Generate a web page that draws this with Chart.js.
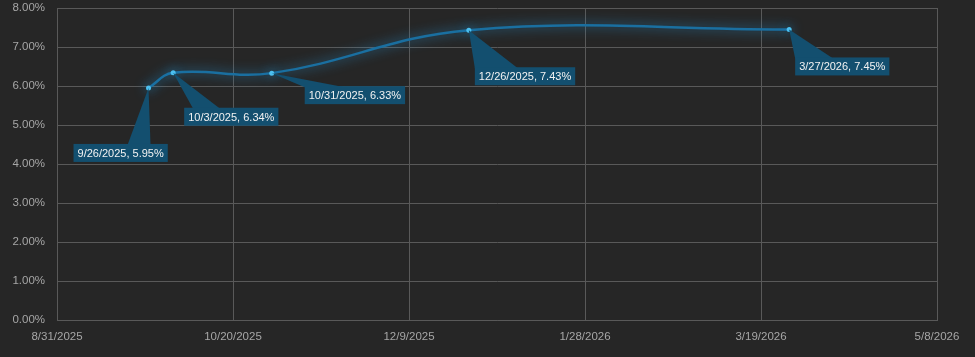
<!DOCTYPE html>
<html>
<head>
<meta charset="utf-8">
<script src="https://cdn.jsdelivr.net/npm/chart.js@4"></script>
<style>
  html, body { margin: 0; padding: 0; background: #262626; }
  #wrap { width: 975px; height: 357px; }
</style>
</head>
<body>
<div id="wrap"><canvas id="rateChart" width="975" height="357"></canvas></div>
<script>
const dates = ['2025-09-26', '2025-10-03', '2025-10-31', '2025-12-26', '2026-03-27'];
const labels = ['9/26/2025', '10/3/2025', '10/31/2025', '12/26/2025', '3/27/2026'];
const rates = [5.95, 6.34, 6.33, 7.43, 7.45];

// x axis runs from 8/31/2025, one tick every 50 days
const startDate = '2025-08-31';
const dayCount = 250;
const dayStep = 50;

// callout box offsets from the point, and where the pointer meets the box top
const calloutStyle = [
    { dx: -75, dy: 56, w0: 54, w1: 77 },
    { dx: 11, dy: 35, w0: 9, w1: 36 },
    { dx: 33, dy: 13, w0: 0, w1: 40 },
    { dx: 6, dy: 37, w0: 0, w1: 43 },
    { dx: 6, dy: 28, w0: 0, w1: 38 }
];

const DAY = 86400000;
const t0 = Date.parse(startDate + 'T00:00:00Z');
const toDays = s => Math.round((Date.parse(s + 'T00:00:00Z') - t0) / DAY);
const fmtDay = d => {
    const dt = new Date(t0 + d * DAY);
    return (dt.getUTCMonth() + 1) + '/' + dt.getUTCDate() + '/' + dt.getUTCFullYear();
};

const points = dates.map((d, i) => ({ x: toDays(d), y: rates[i] }));

const glow = {
    id: 'glow',
    beforeDatasetDraw(chart) {
        const ctx = chart.ctx;
        ctx.save();
        ctx.shadowColor = 'rgba(40, 160, 230, 0.85)';
        ctx.shadowBlur = 12;
    },
    afterDatasetDraw(chart) {
        chart.ctx.restore();
    }
};

const callouts = {
    id: 'callouts',
    afterDatasetsDraw(chart) {
        const ctx = chart.ctx;
        const meta = chart.getDatasetMeta(0);
        ctx.save();
        ctx.font = '11px "Liberation Sans", Arial, sans-serif';
        ctx.textBaseline = 'middle';
        meta.data.forEach((el, i) => {
            const s = calloutStyle[i];
            const text = labels[i] + ', ' + rates[i].toFixed(2) + '%';
            const w = ctx.measureText(text).width + 8;
            const h = 18;
            const bx = el.x + s.dx;
            const by = el.y + s.dy;
            ctx.fillStyle = '#134f6f';
            ctx.beginPath();
            ctx.moveTo(el.x, el.y);
            ctx.lineTo(bx + s.w0, by + 1);
            ctx.lineTo(bx + s.w1, by + 1);
            ctx.closePath();
            ctx.fill();
            ctx.fillRect(bx, by, w, h);
            ctx.fillStyle = '#f2f2f2';
            ctx.fillText(text, bx + 4, by + h / 2 + 1);
        });
        ctx.restore();
    }
};

const config = {
    type: 'line',
    data: {
        datasets: [
            {
                label: 'Rate',
                data: points,
                borderColor: '#1a6fa0',
                borderWidth: 2.5,
                backgroundColor: '#4cc0f0',
                pointBackgroundColor: '#4cc0f0',
                pointBorderWidth: 0,
                pointRadius: 2.5,
                tension: 0.4,
                fill: false
            }
        ]
    },
    options: {
        responsive: false,
        animation: false,
        layout: {
            padding: { top: 8, right: 38, left: 0, bottom: 0 }
        },
        plugins: {
            legend: { display: false },
            tooltip: { enabled: false }
        },
        scales: {
            x: {
                type: 'linear',
                min: 0,
                max: dayCount,
                afterBuildTicks: scale => {
                    const ticks = [];
                    for (let d = 0; d <= dayCount; d += dayStep) ticks.push({ value: d });
                    scale.ticks = ticks;
                },
                afterFit: scale => { scale.height = 37; },
                grid: { color: '#595959', lineWidth: 1, drawTicks: false },
                border: { color: '#595959' },
                ticks: {
                    color: '#a6a6a6',
                    padding: 10,
                    maxRotation: 0,
                    font: { family: '"Liberation Sans", Arial, sans-serif', size: 11.5 },
                    callback: v => fmtDay(v)
                }
            },
            y: {
                min: 0,
                max: 8,
                afterFit: scale => {
                    scale.width = 57;
                    scale.paddingTop = 0;
                    scale.paddingBottom = 0;
                },
                grid: { color: '#595959', lineWidth: 1, drawTicks: false },
                border: { color: '#595959' },
                ticks: {
                    stepSize: 1,
                    color: '#a6a6a6',
                    padding: 12,
                    font: { family: '"Liberation Sans", Arial, sans-serif', size: 11.5 },
                    callback: v => v.toFixed(2) + '%'
                }
            }
        }
    },
    plugins: [glow, callouts]
};

const ctx = document.getElementById('rateChart').getContext('2d');
new Chart(ctx, config);
</script>
</body>
</html>
